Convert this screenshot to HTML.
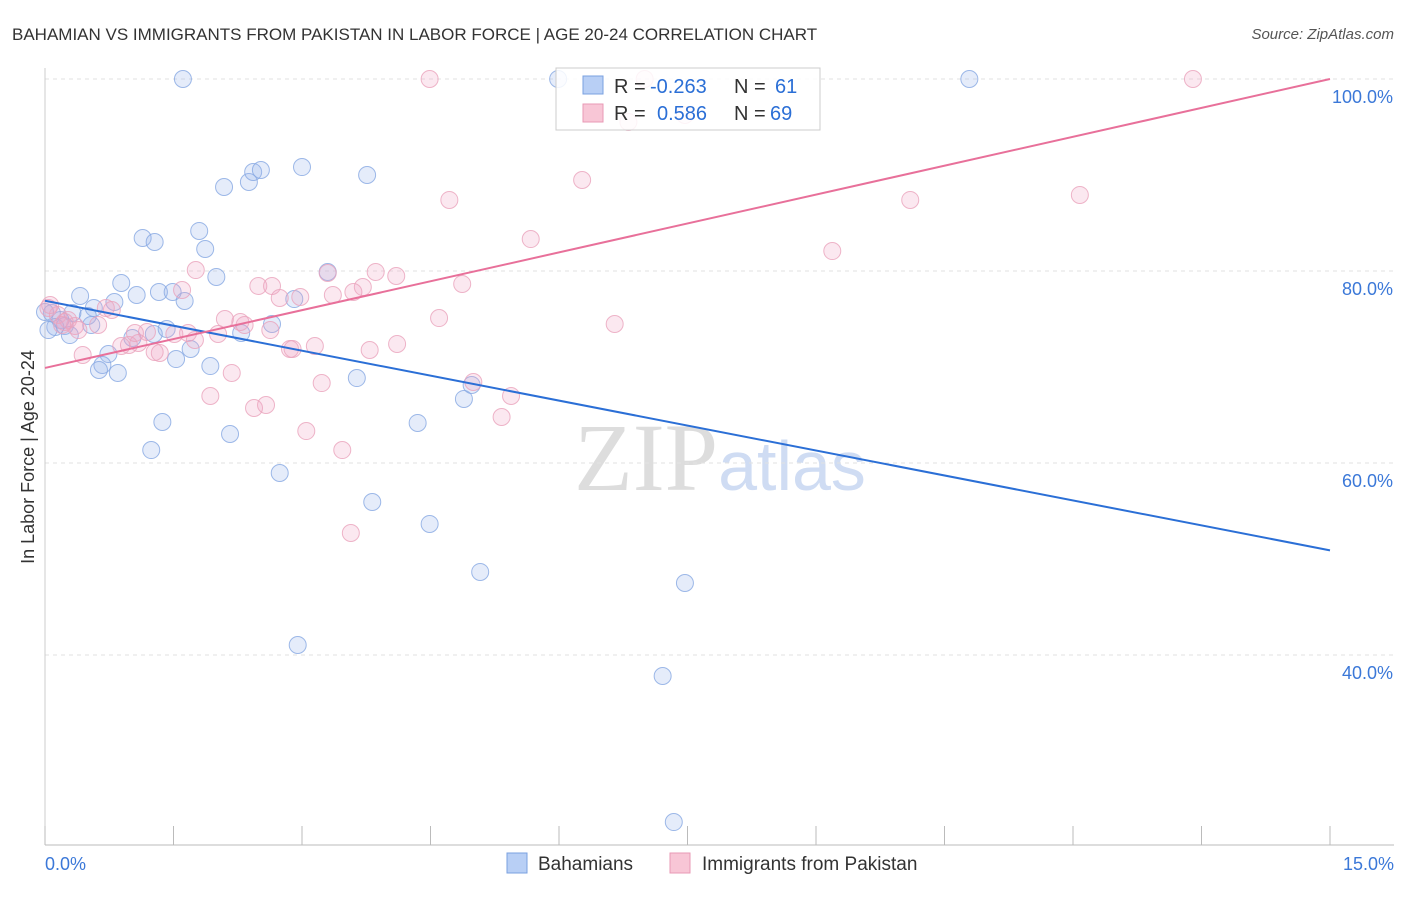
<!DOCTYPE html>
<html><head><meta charset="utf-8"><style>
body{margin:0;background:#fff;font-family:"Liberation Sans",sans-serif;}
</style></head><body>
<svg id="chart" width="1406" height="892" xmlns="http://www.w3.org/2000/svg">
<text x="12" y="40" font-size="17" fill="#333">BAHAMIAN VS IMMIGRANTS FROM PAKISTAN IN LABOR FORCE | AGE 20-24 CORRELATION CHART</text>
<text x="1394" y="39" font-size="15" fill="#555" font-style="italic" text-anchor="end">Source: ZipAtlas.com</text>
<text x="720" y="490" font-size="96" text-anchor="middle" fill="#ddd" font-family="Liberation Serif,serif">ZIP<tspan fill="#cfdcf3" font-family="Liberation Sans,sans-serif" font-size="70">atlas</tspan></text>
<text transform="translate(34,457) rotate(-90)" font-size="18" fill="#333" text-anchor="middle">In Labor Force | Age 20-24</text>
<g id="grid"></g><g id="marks"></g>
<g>
<rect x="556" y="68" width="264" height="62" fill="#fff" fill-opacity="0.85" stroke="#ccc"/>
<rect x="583" y="76" width="20" height="18" fill="#b8cff5" stroke="#7aa0e0"/>
<text x="614" y="93" font-size="20" fill="#333">R =</text>
<text x="650" y="93" font-size="20" fill="#2b6fd6">-0.263</text>
<text x="734" y="93" font-size="20" fill="#333">N =</text>
<text x="775" y="93" font-size="20" fill="#2b6fd6">61</text>
<rect x="583" y="104" width="20" height="18" fill="#f8c6d6" stroke="#e899b5"/>
<text x="614" y="120" font-size="20" fill="#333">R =</text>
<text x="657" y="120" font-size="20" fill="#2b6fd6">0.586</text>
<text x="734" y="120" font-size="20" fill="#333">N =</text>
<text x="770" y="120" font-size="20" fill="#2b6fd6">69</text>
</g>
<g>
<rect x="507" y="853" width="20" height="20" fill="#b8cff5" stroke="#7aa0e0"/>
<text x="538" y="870" font-size="19" fill="#333">Bahamians</text>
<rect x="670" y="853" width="20" height="20" fill="#f8c6d6" stroke="#e899b5"/>
<text x="702" y="870" font-size="19" fill="#333">Immigrants from Pakistan</text>
</g>
</svg>
<script>
const yTicks=[40,60,80,100];
const yTickLabels=["40.0%","60.0%","80.0%","100.0%"];
const xTicks=[0,1.5,3,4.5,6,7.5,9,10.5,12,13.5,15];
const blueX=[1.61,5.99,10.79,2.09,2.38,2.43,2.52,3.00,3.76,1.14,1.28,1.80,1.87,2.00,0.89,0.41,1.07,0.81,1.33,1.49,1.63,0.57,0.50,0.32,0.18,0.08,0.23,0.54,0.29,0.12,1.27,1.02,1.42,2.29,2.65,2.91,3.30,1.70,1.53,0.74,0.67,0.63,0.85,1.93,3.64,4.89,4.98,1.37,1.24,2.16,4.35,2.74,3.82,4.49,5.08,7.47,2.95,7.21,7.34,0.04,0];
const blueY=[100,100,100,88.75,89.27,90.31,90.52,90.83,90.0,83.44,83.02,84.17,82.29,79.38,78.75,77.40,77.50,76.77,77.81,77.81,76.88,76.15,75.31,75.63,74.90,75.63,74.27,74.38,73.33,74.17,73.44,73.02,73.96,73.54,74.48,77.08,79.90,71.88,70.83,71.35,70.21,69.69,69.38,70.10,68.85,66.67,68.13,64.27,61.35,63.02,64.17,58.96,55.94,53.65,48.65,47.50,41.04,37.81,22.6,73.85,75.73];
const pinkX=[4.49,7.0,13.40,6.81,7.47,6.27,4.72,10.10,12.08,5.67,9.19,1.76,3.30,3.86,4.10,4.87,3.71,3.60,2.49,2.65,2.74,2.98,3.36,1.60,0.78,0.71,0.62,6.65,4.60,2.10,2.28,2.33,1.51,1.19,1.67,2.02,0.98,1.09,0.89,1.34,1.28,2.86,2.89,3.15,3.79,4.11,0.44,3.23,5.00,1.93,2.18,5.44,5.33,2.44,2.58,3.05,3.47,3.57,0.04,0.15,0.27,0.35,0.23,0.06,0.20,0.39,1.05,1.75,2.63];
const pinkY=[100,100,100,95.52,96.25,89.48,87.40,87.40,87.92,83.33,82.08,80.10,79.79,79.90,79.48,78.65,78.33,77.81,78.44,78.44,77.19,77.29,77.50,78.02,75.94,76.15,74.38,74.48,75.10,75.0,74.69,74.38,73.44,73.65,73.54,73.44,72.29,72.50,72.19,71.46,71.56,71.88,71.88,72.19,71.77,72.40,71.25,68.33,68.44,66.98,69.38,66.98,64.79,65.73,66.04,63.33,61.35,52.71,76.15,75.42,74.90,74.27,74.69,76.46,74.38,73.85,73.54,72.81,73.85];
const blueTrend=[76.9,50.9];
const pinkTrend=[69.9,100];
const NS="http://www.w3.org/2000/svg";
const X=v=>45+v/15*1285, Y=v=>79+(100-v)*9.6;
function mk(t,a,p){const e=document.createElementNS(NS,t);for(const k in a)e.setAttribute(k,a[k]);p.appendChild(e);return e;}
const grid=document.getElementById('grid'),marks=document.getElementById('marks');
yTicks.forEach((t,i)=>{
 const l=mk('line',{x1:45,x2:1394,y1:Y(t),y2:Y(t),stroke:'#e2e2e2','stroke-dasharray':'4,4'},grid);
 
 
 const tx=mk('text',{x:1393,y:Y(t)+24,'font-size':18,fill:'#3b78d8','text-anchor':'end'},grid);
 tx.textContent=yTickLabels[i];
 
 
});
const ax=mk('line',{x1:45,x2:1394,y1:845,y2:845,stroke:'#bbb'},grid);


const ay=mk('line',{x1:45,x2:45,y1:68,y2:845,stroke:'#ccc'},grid);


xTicks.forEach(t=>{
 const l=mk('line',{x1:X(t),x2:X(t),y1:826,y2:845,stroke:'#bbb'},grid);
 
 
});
const xl0=mk('text',{x:45,y:870,'font-size':18,fill:'#3b78d8'},grid);xl0.textContent='0.0%';


const xl1=mk('text',{x:1394,y:870,'font-size':18,fill:'#3b78d8','text-anchor':'end'},grid);xl1.textContent='15.0%';


function pts(xs,ys,fill,stroke,name){xs.forEach((x,i)=>{
 const c=mk('circle',{cx:X(x),cy:Y(ys[i]),r:8.5,fill:fill,stroke:stroke,'stroke-width':1,'stroke-opacity':0.8},marks);
 
 
});}
pts(blueX,blueY,'rgba(150,180,235,0.25)','#86a8e2','bahamian-point');
pts(pinkX,pinkY,'rgba(240,165,195,0.25)','#eaa2bc','pakistan-point');
const bl=mk('line',{x1:X(0),y1:Y(blueTrend[0]),x2:X(15),y2:Y(blueTrend[1]),stroke:'#2b6fd6','stroke-width':2},marks);


const pl=mk('line',{x1:X(0),y1:Y(pinkTrend[0]),x2:X(15),y2:Y(pinkTrend[1]),stroke:'#e8709a','stroke-width':2},marks);


</script>
</body></html>
